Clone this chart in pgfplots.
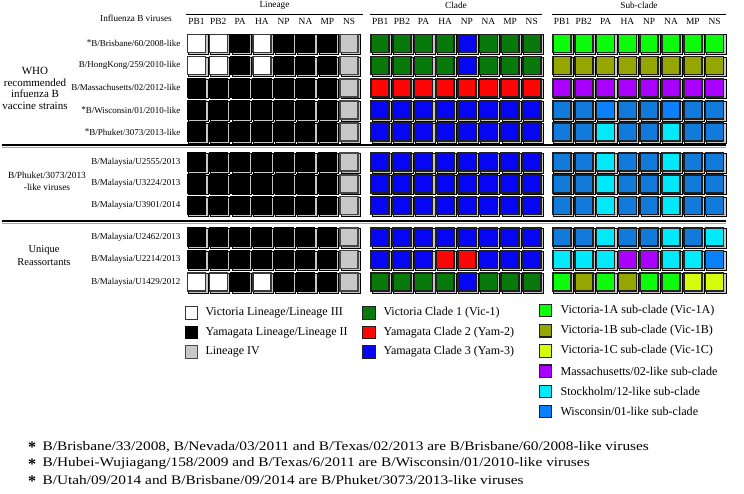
\documentclass[border=0pt]{standalone}
\usepackage{pgfplots}
\pgfplotsset{compat=1.18}
\usepackage{pgfplotstable}
\usepackage{fontspec}
\setmainfont{Liberation Serif}

\definecolor{vicone}{RGB}{8,122,12}
\definecolor{yamtwo}{RGB}{255,6,6}
\definecolor{yamthree}{RGB}{6,6,245}
\definecolor{vonea}{RGB}{12,252,12}
\definecolor{voneb}{RGB}{150,166,0}
\definecolor{vonec}{RGB}{212,252,12}
\definecolor{mass}{RGB}{170,0,255}
\definecolor{stock}{RGB}{0,234,252}
\definecolor{wisc}{RGB}{18,122,218}
\definecolor{wiscl}{RGB}{10,128,250}
\definecolor{linfour}{RGB}{200,200,200}

\pgfplotsset{cellclasses/.style={scatter/classes={
 W={mark=square*, draw=black!78, fill=white},
 K={mark=square*, draw=black, fill=black},
 G={mark=square*, draw=black!72, fill=linfour},
 V={mark=square*, draw=black!88, fill=vicone},
 R={mark=square*, draw=black!88, fill=yamtwo},
 B={mark=square*, draw=black!88, fill=yamthree},
 A={mark=square*, draw=black!85, fill=vonea},
 O={mark=square*, draw=black!88, fill=voneb},
 C={mark=square*, draw=black!85, fill=vonec},
 M={mark=square*, draw=black!85, fill=mass},
 S={mark=square*, draw=black!85, fill=stock},
 X={mark=square*, draw=black!88, fill=wisc},
 Z={mark=square*, draw=black!88, fill=wiscl}}}}

% Lineage
\pgfplotstableread{
ry c0 c1 c2 c3 c4 c5 c6 c7
43.3 W W K W K K K G
65.5 W W K W K K K G
87.8 K K K K K K K G
110 K K K K K K K G
132.2 K K K K K K K G
162 K K K K K K K G
183.8 K K K K K K K G
205.5 K K K K K K K G
237 K K K K K K K G
259.5 K K K K K K K G
282 W W K W K K K G
}\lineagetab

% Clade
\pgfplotstableread{
ry c0 c1 c2 c3 c4 c5 c6 c7
43.3 V V V V B V V V
65.5 V V V V B V V V
87.8 R R R R R R R R
110 B B B B B B B B
132.2 B B B B B B B B
162 B B B B B B B B
183.8 B B B B B B B B
205.5 B B B B B B B B
237 B B B B B B B B
259.5 B B B R R B B B
282 V V V V B V V V
}\cladetab

% Sub-clade
\pgfplotstableread{
ry c0 c1 c2 c3 c4 c5 c6 c7
43.3 A A A A A A A A
65.5 O O O O O O O O
87.8 M M M M M M M M
110 X X Z X X Z X X
132.2 X X S X X S X X
162 X X S X X S X X
183.8 X X S X X S X X
205.5 X X S X X S X X
237 X X S X X S X S
259.5 S S S M M S S Z
282 A O A O A A C C
}\subtab

% Legend keys
\pgfplotstableread{
x y c
191.5 313 W
191.5 332.5 K
191.5 352 G
369 313 V
369 332.5 R
369 352 B
545.5 310.5 A
545.5 330.7 O
545.5 350.9 C
545.5 371.1 M
545.5 391.3 S
545.5 411.5 Z
}\legtab

\newcommand{\rowf}{\fontsize{9.0}{11}\selectfont}
\newcommand{\colf}{\fontsize{9.4}{11}\selectfont}
\newcommand{\legf}{\fontsize{12}{14}\selectfont}

\begin{document}
\begin{tikzpicture}
\begin{axis}[hide axis, scale only axis, width=744pt, height=493pt,
  xmin=0, xmax=744, ymin=0, ymax=493, y dir=reverse, clip=false]
\pgfplotsinvokeforeach{0,...,7}{
  \addplot[only marks, mark=square*, mark size=9.8pt, mark options={draw=none, fill=black!22, xshift=1.4pt, yshift=-1pt}, forget plot]
    table[x expr={196.5+21.8*#1}, y=ry] {\lineagetab};
  \addplot[scatter, only marks, scatter src=explicit symbolic, cellclasses, mark size=9.0pt, line width=1.6pt]
    table[x expr={196.5+21.8*#1}, y=ry, meta=c#1] {\lineagetab};
  \addplot[only marks, mark=square*, mark size=9.8pt, mark options={draw=none, fill=black!22, xshift=1.4pt, yshift=-1pt}, forget plot]
    table[x expr={380.2+21.65*#1}, y=ry] {\cladetab};
  \addplot[scatter, only marks, scatter src=explicit symbolic, cellclasses, mark size=9.0pt, line width=1.6pt]
    table[x expr={380.2+21.65*#1}, y=ry, meta=c#1] {\cladetab};
  \addplot[only marks, mark=square*, mark size=9.8pt, mark options={draw=none, fill=black!22, xshift=1.4pt, yshift=-1pt}, forget plot]
    table[x expr={562+21.8*#1}, y=ry] {\subtab};
  \addplot[scatter, only marks, scatter src=explicit symbolic, cellclasses, mark size=9.0pt, line width=1.6pt]
    table[x expr={562+21.8*#1}, y=ry, meta=c#1] {\subtab};
}
\addplot[scatter, only marks, scatter src=explicit symbolic, cellclasses, mark size=6.2pt, line width=1.2pt]
  table[x=x, y=y, meta=c] {\legtab};
\end{axis}

\begin{scope}[shift={(0,493pt)}, x=1pt, y=-1pt]
% header lines
\draw[line width=0.9pt] (186,14.5) -- (363,14.5);
\draw[line width=0.9pt] (370,14.5) -- (542,14.5);
\draw[line width=0.9pt] (552,14.5) -- (726,14.5);
% separators
\draw[line width=1.6pt] (2,145.3) -- (726,145.3);
\draw[line width=0.7pt, black!35] (2,147.6) -- (726,147.6);
\draw[line width=1.6pt] (2,221.3) -- (726,221.3);
\draw[line width=0.7pt, black!35] (2,223.6) -- (726,223.6);
% group titles
\node[font=\fontsize{9.3}{11}\selectfont] at (274.5,5.5) {Lineage};
\node[font=\fontsize{9.3}{11}\selectfont] at (456,5.5) {Clade};
\node[font=\fontsize{9.3}{11}\selectfont] at (639,5.5) {Sub-clade};
\node[font=\fontsize{9.2}{11}\selectfont] at (136,18) {Influenza B viruses};
% column headers
\foreach \n [count=\i from 0] in {PB1,PB2,PA,HA,NP,NA,MP,NS} {
  \node[font=\colf] at ({196.5+21.8*\i},21) {\n};
  \node[font=\colf] at ({380.2+21.65*\i},21) {\n};
  \node[font=\colf] at ({562+21.8*\i},21) {\n};
}
% row labels
\node[anchor=east, font=\rowf] at (184,43.3) {\raisebox{1.5pt}{*}B/Brisbane/60/2008-like};
\node[anchor=east, font=\rowf] at (184,65.5) {B/HongKong/259/2010-like};
\node[anchor=east, font=\rowf] at (184,87.8) {B/Massachusetts/02/2012-like};
\node[anchor=east, font=\rowf] at (184,110) {\raisebox{1.5pt}{*}B/Wisconsin/01/2010-like};
\node[anchor=east, font=\rowf] at (184,132.2) {\raisebox{1.5pt}{*}B/Phuket/3073/2013-like};
\node[anchor=east, font=\rowf] at (184,162) {B/Malaysia/U2555/2013};
\node[anchor=east, font=\rowf] at (184,183.8) {B/Malaysia/U3224/2013};
\node[anchor=east, font=\rowf] at (184,205.5) {B/Malaysia/U3901/2014};
\node[anchor=east, font=\rowf] at (184,237) {B/Malaysia/U2462/2013};
\node[anchor=east, font=\rowf] at (184,259.5) {B/Malaysia/U2214/2013};
\node[anchor=east, font=\rowf] at (184,282) {B/Malaysia/U1429/2012};
% group labels
\node[align=center, font=\fontsize{11}{11.6}\selectfont] at (35,88.5) {WHO\\recommended\\infuenza B\\vaccine strains};
\node[align=center, font=\fontsize{9.4}{12.5}\selectfont] at (47,181.5) {B/Phuket/3073/2013\\-like viruses};
\node[align=center, font=\fontsize{10.5}{13}\selectfont] at (44,256) {Unique\\Reassortants};
% legend texts
\node[anchor=west, font=\legf] at (202,313) {Victoria Lineage/Lineage III};
\node[anchor=west, font=\legf] at (202,332.5) {Yamagata Lineage/Lineage II};
\node[anchor=west, font=\legf] at (202,352) {Lineage IV};
\node[anchor=west, font=\legf] at (380,313) {Victoria Clade 1 (Vic-1)};
\node[anchor=west, font=\legf] at (380,332.5) {Yamagata Clade 2 (Yam-2)};
\node[anchor=west, font=\legf] at (380,352) {Yamagata Clade 3 (Yam-3)};
\node[anchor=west, font=\fontsize{12.1}{14}\selectfont] at (557,310.5) {Victoria-1A sub-clade (Vic-1A)};
\node[anchor=west, font=\fontsize{12.1}{14}\selectfont] at (557,330.7) {Victoria-1B sub-clade (Vic-1B)};
\node[anchor=west, font=\fontsize{12.1}{14}\selectfont] at (557,350.9) {Victoria-1C sub-clade (Vic-1C)};
\node[anchor=west, font=\fontsize{12.1}{14}\selectfont] at (557,371.1) {Massachusetts/02-like sub-clade};
\node[anchor=west, font=\fontsize{12.1}{14}\selectfont] at (557,391.3) {Stockholm/12-like sub-clade};
\node[anchor=west, font=\fontsize{12.1}{14}\selectfont] at (557,411.5) {Wisconsin/01-like sub-clade};
% footnotes
\foreach \yy/\tt in {446.5/{B/Brisbane/33/2008, B/Nevada/03/2011 and B/Texas/02/2013 are B/Brisbane/60/2008-like viruses},
                     463.5/{B/Hubei-Wujiagang/158/2009 and B/Texas/6/2011 are B/Wisconsin/01/2010-like viruses},
                     480.5/{B/Utah/09/2014 and B/Brisbane/09/2014 are B/Phuket/3073/2013-like viruses}} {
  \node[font=\fontsize{16}{16}\selectfont\bfseries] at (32,{\yy+1}) {*};
  \node[anchor=west, font=\fontsize{13}{15}\selectfont] at (39,\yy) {\scalebox{1.18}[1]{\tt}};
}
\end{scope}
\pgfresetboundingbox
\useasboundingbox (current axis.south west) rectangle (current axis.north east);
\end{tikzpicture}
\end{document}
